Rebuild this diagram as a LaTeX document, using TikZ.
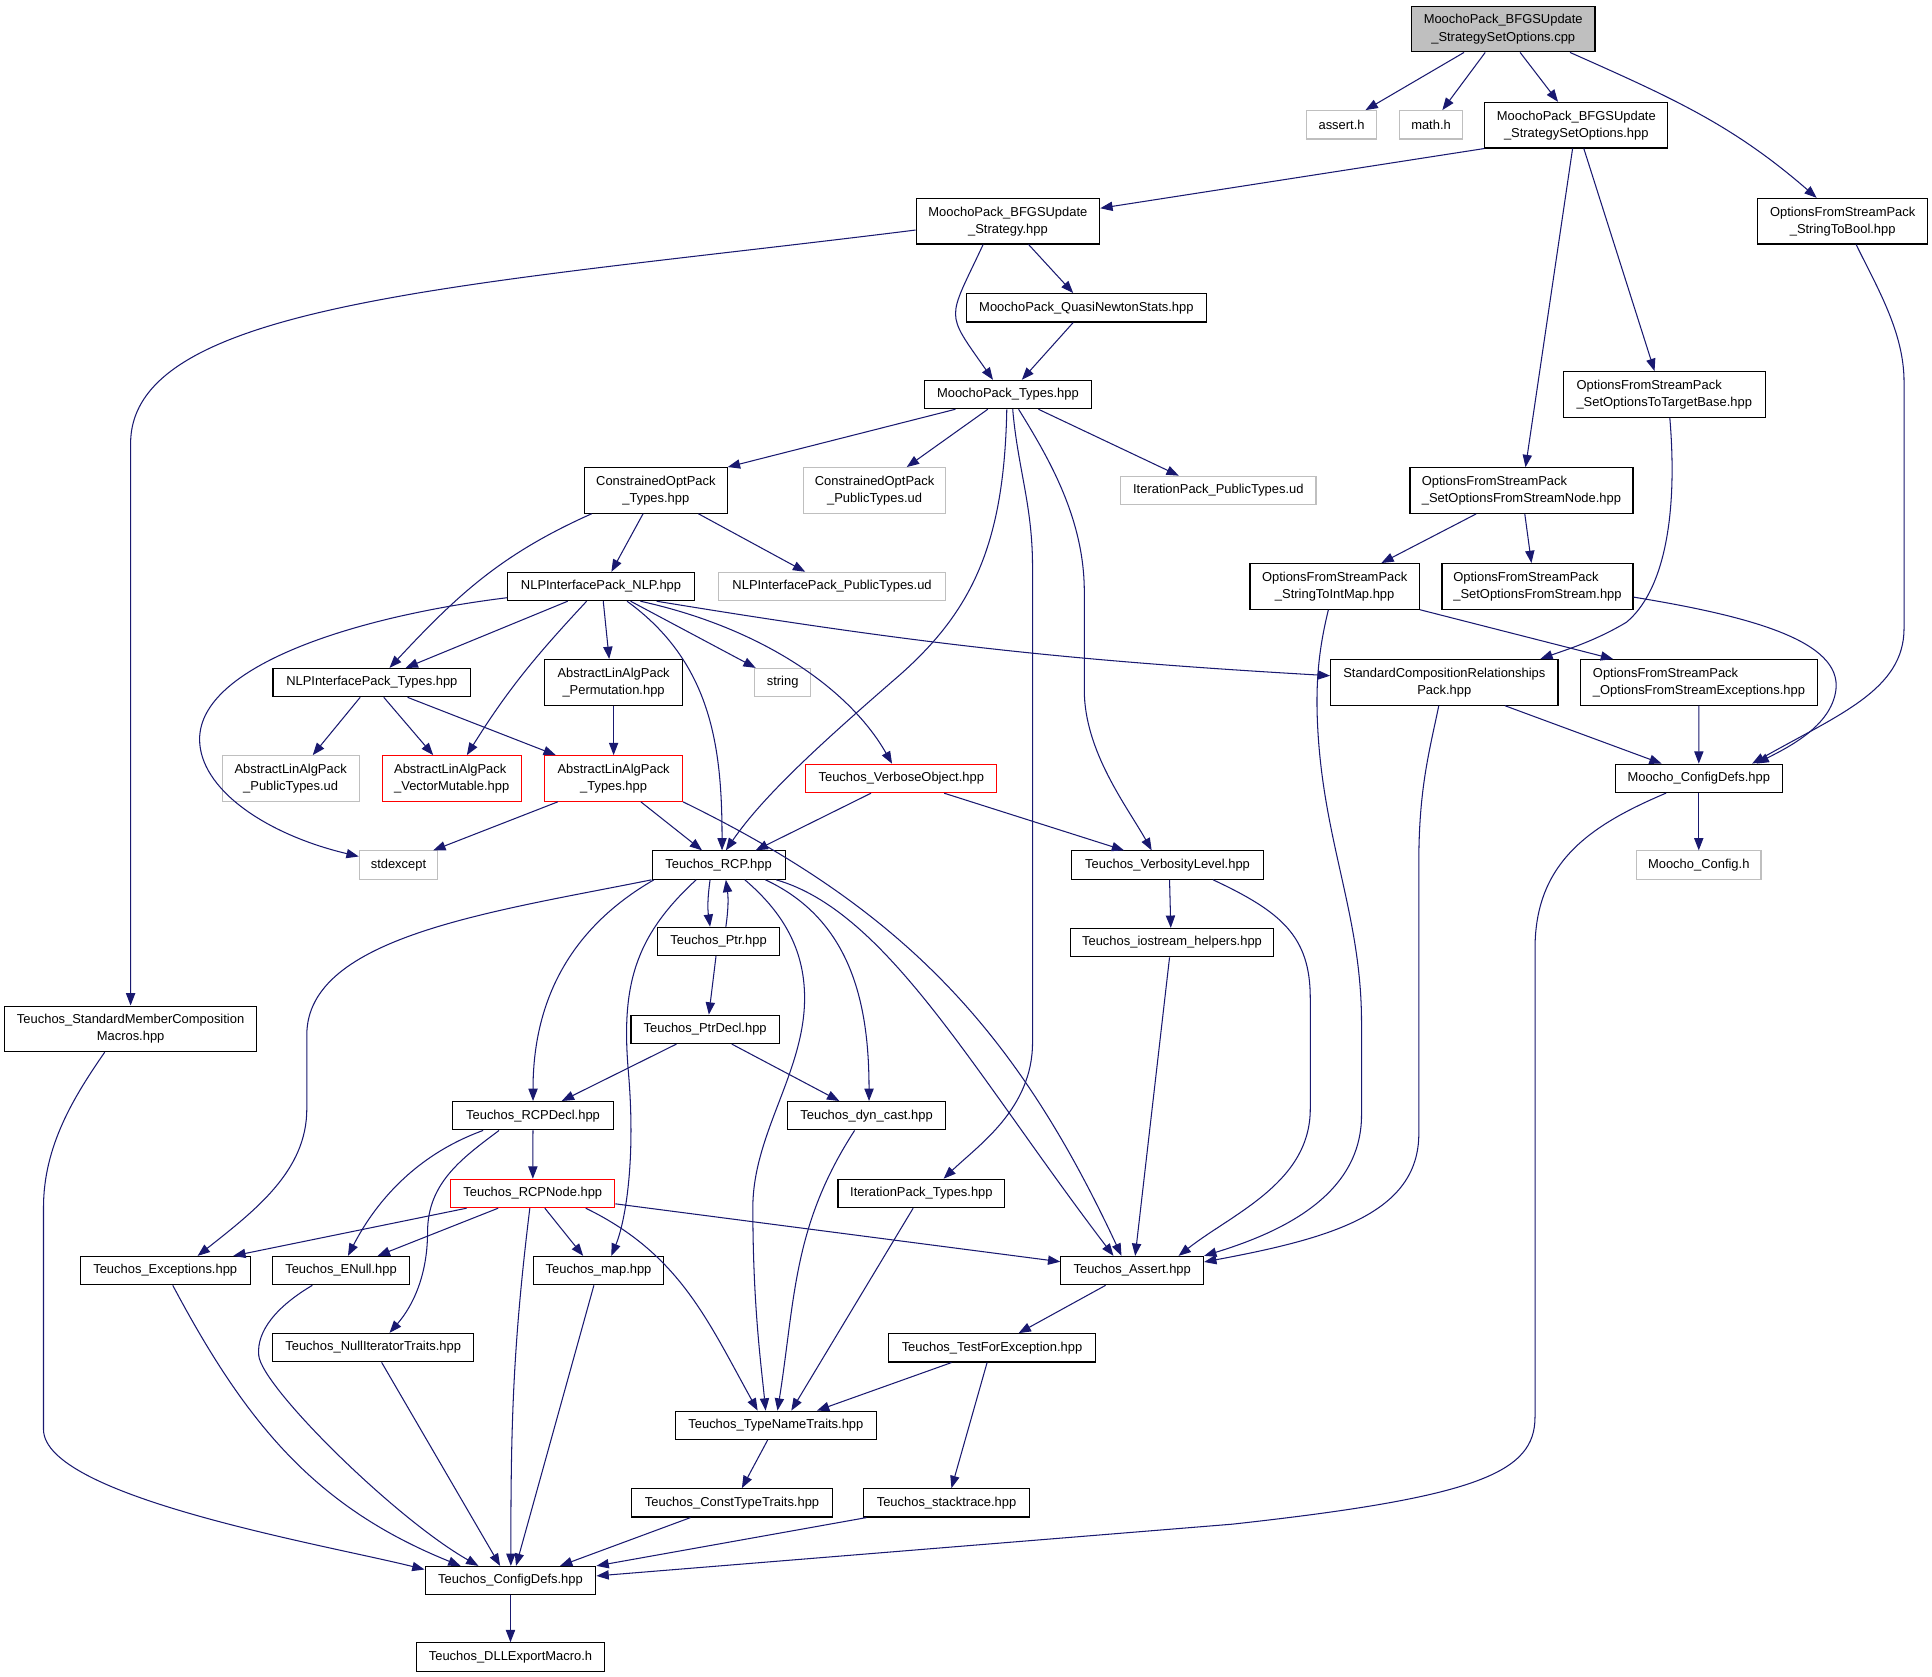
\documentclass[tikz,border=0pt]{standalone}
\usepackage{fontspec}
\setmainfont{Liberation Sans}
\usepackage{tikz}
\usetikzlibrary{positioning}
\usetikzlibrary{arrows.meta}
\definecolor{edgeblue}{HTML}{191970}
\definecolor{boxgrey}{HTML}{BFBFBF}
\tikzset{link/.style = {->,> = {Triangle[length=10pt,width=7.5pt]}, color=edgeblue, line width=.85pt}}
% first line left, second line centred (as doxygen does)
\newcommand{\twoline}[2]{\begin{tabular}{@{}l@{}}#1\\\multicolumn{1}{@{}c@{}}{#2}\end{tabular}}

\begin{document}
\begin{tikzpicture}[x=1pt, y=1pt, node distance=62pt,
    file/.style={rectangle, draw=black, line width=.9pt, fill=white, inner sep=3pt, minimum height=23pt, font=\fontsize{10.5}{14}\selectfont},
    tall/.style={minimum height=37pt},
    sys/.style={file, draw=boxgrey},
    bad/.style={file, draw=red},
    root/.style={file, fill=boxgrey}]
    \fill[white] (0,0) rectangle (1568,-1361);
    \useasboundingbox (0,0) rectangle (1568,-1361);
    % top rows
    \node[root, tall, minimum width=149pt] (cpp) at (1220,-23.6) {\twoline{MoochoPack\_BFGSUpdate}{\_StrategySetOptions.cpp}};
    \node[sys, minimum width=56.5pt] (asserth) at (1088.8,-101.3) {assert.h};
    \node[sys, minimum width=51pt] (mathh) at (1161.4,-101.3) {math.h};
    \node[file, tall, minimum width=148.5pt] (setopthpp) at (1279.3,-101.6) {\twoline{MoochoPack\_BFGSUpdate}{\_StrategySetOptions.hpp}};
    \node[file, tall, minimum width=149pt] (strategy) at (818,-179.5) {\twoline{MoochoPack\_BFGSUpdate}{\_Strategy.hpp}};
    \node[file, tall, minimum width=138pt] (strtobool) at (1495.5,-179.5) {\twoline{OptionsFromStreamPack}{\_StringToBool.hpp}};
    \node[file, minimum width=194.6pt] (qns) at (881.7,-249.8) {MoochoPack\_QuasiNewtonStats.hpp};
    \node[file, minimum width=135pt] (types) at (818,-320.2) {MoochoPack\_Types.hpp};
    \node[file, tall, minimum width=163.7pt] (settarget) at (1350.7,-320.1) {\twoline{OptionsFromStreamPack}{\_SetOptionsToTargetBase.hpp}};
    \node[file, tall, minimum width=115.8pt] (cop) at (532.3,-398) {\twoline{ConstrainedOptPack}{\_Types.hpp}};
    \node[sys, tall, minimum width=115.8pt] (coppub) at (709.8,-398) {\twoline{ConstrainedOptPack}{\_PublicTypes.ud}};
    \node[sys, minimum width=158.5pt] (iterpub) at (988.8,-398) {IterationPack\_PublicTypes.ud};
    \node[file, tall, minimum width=181pt] (setnode) at (1234.8,-398.1) {\twoline{OptionsFromStreamPack}{\_SetOptionsFromStreamNode.hpp}};
    \node[file, minimum width=151.6pt] (nlp) at (487.8,-476) {NLPInterfacePack\_NLP.hpp};
    \node[sys, minimum width=184pt] (nlppub) at (675.3,-476) {NLPInterfacePack\_PublicTypes.ud};
    \node[file, tall, minimum width=137.5pt] (strtoint) at (1083.2,-475.9) {\twoline{OptionsFromStreamPack}{\_StringToIntMap.hpp}};
    \node[file, tall, minimum width=155pt] (setstream) at (1247.8,-475.9) {\twoline{OptionsFromStreamPack}{\_SetOptionsFromStream.hpp}};
    \node[file, minimum width=160.5pt] (nlptypes) at (301.8,-554) {NLPInterfacePack\_Types.hpp};
    \node[file, tall, minimum width=111.7pt] (perm) at (498,-553.8) {\twoline{AbstractLinAlgPack}{\_Permutation.hpp}};
    \node[sys, minimum width=45pt] (string) at (635.2,-554) {string};
    \node[file, tall, minimum width=184.5pt] (stdcomp) at (1172.2,-553.8) {\twoline{StandardCompositionRelationships}{Pack.hpp}};
    \node[file, tall, minimum width=191.7pt] (exc) at (1378.9,-553.8) {\twoline{OptionsFromStreamPack}{\_OptionsFromStreamExceptions.hpp}};
    \node[sys, tall, minimum width=111.3pt] (alapub) at (235.9,-631.8) {\twoline{AbstractLinAlgPack}{\_PublicTypes.ud}};
    \node[bad, tall, minimum width=112.8pt] (vecmut) at (366.6,-631.8) {\twoline{AbstractLinAlgPack}{\_VectorMutable.hpp}};
    \node[bad, tall, minimum width=111.7pt] (alatypes) at (498,-631.8) {\twoline{AbstractLinAlgPack}{\_Types.hpp}};
    \node[bad, minimum width=155pt] (verbobj) at (731.5,-631.8) {Teuchos\_VerboseObject.hpp};
    \node[file, minimum width=135.4pt] (moochoconf) at (1378.7,-631.7) {Moocho\_ConfigDefs.hpp};
    % middle rows
    \node[sys, minimum width=63.6pt] (stdexcept) at (323.4,-702.1) {stdexcept};
    \node[file, minimum width=108pt] (rcp) at (583.2,-702.1) {Teuchos\_RCP.hpp};
    \node[file, minimum width=155.3pt] (verblev) at (947.6,-702.1) {Teuchos\_VerbosityLevel.hpp};
    \node[sys, minimum width=101pt, node distance=70.4pt] (mconfigh) [below of=moochoconf] {Moocho\_Config.h};
    \node[file, minimum width=98.5pt] (ptr) [below of=rcp] {Teuchos\_Ptr.hpp};
    \node[file, minimum width=164.3pt] (iohelp) at (951.2,-765) {Teuchos\_iostream\_helpers.hpp};
    \node[file, tall, minimum width=204pt] (members) at (106,-835) {\twoline{Teuchos\_StandardMemberComposition}{Macros.hpp}};
    \node[file, minimum width=120.3pt] (ptrdecl) at (572.3,-835.4) {Teuchos\_PtrDecl.hpp};
    \node[file, minimum width=130pt] (rcpdecl) at (432.6,-905.5) {Teuchos\_RCPDecl.hpp};
    \node[file, minimum width=127.7pt] (dyncast) at (703.3,-905.5) {Teuchos\_dyn\_cast.hpp};
    \node[bad, minimum width=133pt] (rcpnode) at (432.4,-968.6) {Teuchos\_RCPNode.hpp};
    \node[file, minimum width=135.4pt] (iter) at (747.8,-968.6) {IterationPack\_Types.hpp};
    % bottom rows
    \node[file, minimum width=138pt] (texc) at (134.1,-1031.2) {Teuchos\_Exceptions.hpp};
    \node[file, minimum width=110.7pt] (enull) at (276.8,-1031.2) {Teuchos\_ENull.hpp};
    \node[file, minimum width=105pt] (map) at (485.8,-1031.2) {Teuchos\_map.hpp};
    \node[file, minimum width=115.8pt] (assert) at (918.9,-1031.2) {Teuchos\_Assert.hpp};
    \node[file, minimum width=163pt] (nullit) at (302.9,-1093.7) {Teuchos\_NullIteratorTraits.hpp};
    \node[file, minimum width=167.8pt] (testexc) at (805.1,-1093.9) {Teuchos\_TestForException.hpp};
    \node[file, minimum width=163.6pt] (tnt) at (629.7,-1156.8) {Teuchos\_TypeNameTraits.hpp};
    \node[file, minimum width=163.6pt] (ctt) at (594.1,-1219.7) {Teuchos\_ConstTypeTraits.hpp};
    \node[file, minimum width=134.4pt] (stack) at (768.2,-1219.7) {Teuchos\_stacktrace.hpp};
    \node[file, minimum width=138.6pt] (conf) at (414.3,-1282.8) {Teuchos\_ConfigDefs.hpp};
    \node[file, minimum width=153pt] (dll) [below of=conf] {Teuchos\_DLLExportMacro.h};

    % from the .cpp
    \path[link] ([xshift=-31.8pt]cpp.south) edge ([xshift=19.4pt]asserth.north);
    \path[link] ([xshift=-14.6pt]cpp.south) edge ([xshift=9.2pt]mathh.north);
    \path[link] ([xshift=13.7pt]cpp.south) edge ([xshift=-14.8pt]setopthpp.north);
    \path[link] ([xshift=54.2pt]cpp.south) edge[out=-24,in=139] ([xshift=-21.1pt]strtobool.north);
    \path[link] (setopthpp.south west) edge ([yshift=10.5pt]strategy.east);
    \path[link] ([xshift=-3pt]setopthpp.south) edge ([xshift=3.3pt]setnode.north);
    \path[link] ([xshift=6.1pt]setopthpp.south) edge ([xshift=-7.9pt]settarget.north);
    % strategy
    \draw[link] ([yshift=-7.2pt]strategy.west) .. controls (380,-232) and (106,-245) .. (106,-360) -- (members.north);
    \path[link] ([xshift=16.8pt]strategy.south) edge ([xshift=-10.7pt]qns.north);
    \path[link] ([xshift=-20.1pt]strategy.south) edge[out=-115,in=125,looseness=1.6] ([xshift=-12.1pt]types.north);
    \path[link] ([xshift=-10.7pt]qns.south) edge ([xshift=11.3pt]types.north);
    \draw[link] ([xshift=10.9pt]strtobool.south) .. controls (1524,-234.4) and (1545.3,-270) .. (1545.3,-310) -- (1545.3,-510) .. controls (1545.3,-560) and (1492,-580) .. ([xshift=43.3pt]moochoconf.north);
    % MoochoPack_Types
    \path[link] ([xshift=-42.6pt]types.south) edge (cop.north east);
    \path[link] ([xshift=-16.3pt]types.south) edge ([xshift=26.1pt]coppub.north);
    \path[link] ([xshift=24.8pt]types.south) edge ([xshift=-32.1pt]iterpub.north);
    \draw[link] ([xshift=-0.9pt]types.south) .. controls (815,-440) and (790,-495) .. (730,-548) .. controls (670,-600) and (620,-645) .. ([xshift=5.9pt]rcp.north);
    \draw[link] ([xshift=3.9pt]types.south) .. controls (826,-380) and (838,-410) .. (838,-460) -- (838,-846) .. controls (838,-900) and (793.8,-929.6) .. ([xshift=18pt]iter.north);
    \draw[link] ([xshift=8.7pt]types.south) .. controls (850,-370) and (880,-420) .. (880,-480) -- (880,-560) .. controls (880,-610) and (915,-655) .. ([xshift=-12.9pt]verblev.north);
    % options from stream
    \draw[link] ([xshift=4.5pt]settarget.south) .. controls (1362,-420) and (1350,-480) .. (1320,-505) .. controls (1295,-520) and (1272,-527) .. ([xshift=77.9pt]stdcomp.north);
    \path[link] ([xshift=-36.7pt]setnode.south) edge ([xshift=37.9pt]strtoint.north);
    \path[link] ([xshift=2.7pt]setnode.south) edge ([xshift=-4.9pt]setstream.north);
    \draw[link] ([yshift=-8.7pt]setstream.east) .. controls (1420,-500) and (1495,-520) .. (1490,-560) .. controls (1486,-590) and (1450,-607) .. ([xshift=46.9pt]moochoconf.north);
    \draw[link] ([xshift=-5.1pt]strtoint.south) .. controls (1072,-520) and (1068,-545) .. (1069,-580) .. controls (1072,-680) and (1105,-740) .. (1105,-830) -- (1105,-905) .. controls (1105,-970) and (1040,-1000) .. (assert.north east);
    \path[link] (strtoint.south east) edge ([xshift=-69.7pt]exc.north);
    \path[link] ([xshift=49.2pt]stdcomp.south) edge ([xshift=-30.1pt]moochoconf.north);
    \draw[link] ([xshift=-4.5pt]stdcomp.south) .. controls (1160,-610) and (1151.5,-640) .. (1151.5,-700) -- (1151.5,-920) .. controls (1151.5,-985) and (1080,-1005) .. ([yshift=7pt]assert.east);
    \path[link] (exc) edge (moochoconf);
    \path[link] (moochoconf) edge (mconfigh);
    \draw[link] ([xshift=-26.5pt]moochoconf.south) .. controls (1290,-670) and (1245.8,-700) .. (1245.8,-770) -- (1245.8,-1150) .. controls (1245.8,-1195) and (1200,-1215) .. (1000,-1237) -- ([yshift=3.8pt]conf.east);
    % ConstrainedOptPack and NLP
    \path[link] ([xshift=-52.1pt]cop.south) edge[out=-156,in=47] ([xshift=14.3pt]nlptypes.north);
    \path[link] ([xshift=-10.4pt]cop.south) edge ([xshift=8.4pt]nlp.north);
    \path[link] ([xshift=34.5pt]cop.south) edge ([xshift=-21.8pt]nlppub.north);
    \draw[link] ([yshift=-9.1pt]nlp.west) .. controls (290,-500) and (162,-540) .. (162,-600) .. controls (162,-640) and (215,-677) .. ([yshift=7pt]stdexcept.west);
    \path[link] ([xshift=-27.1pt]nlp.south) edge ([xshift=27.4pt]nlptypes.north);
    \path[link] ([xshift=-11.7pt]nlp.south) edge[out=-133,in=58] ([xshift=12.3pt]vecmut.north);
    \path[link] ([xshift=1.8pt]nlp.south) edge ([xshift=-3.6pt]perm.north);
    \path[link] ([xshift=21.1pt]nlp.south) edge[out=-36,in=90] ([xshift=2.8pt]rcp.north);
    \path[link] ([xshift=24pt]nlp.south) edge ([xshift=-21.9pt]string.north);
    \draw[link] ([xshift=32pt]nlp.south) .. controls (620,-510) and (690,-560) .. ([xshift=-7.5pt]verbobj.north);
    \path[link] ([xshift=45.2pt]nlp.south) edge[bend right=3] ([yshift=5.4pt]stdcomp.west);
    \path[link] ([xshift=-9.5pt]nlptypes.south) edge ([xshift=17.9pt]alapub.north);
    \path[link] ([xshift=9.7pt]nlptypes.south) edge ([xshift=-15pt]vecmut.north);
    \path[link] ([xshift=29pt]nlptypes.south) edge ([xshift=-46.9pt]alatypes.north);
    \path[link] (perm) edge (alatypes);
    % AbstractLinAlgPack_Types
    \path[link] ([xshift=-45.3pt]alatypes.south) edge ([xshift=28.2pt]stdexcept.north);
    \path[link] ([xshift=22.1pt]alatypes.south) edge ([xshift=-13.4pt]rcp.north);
    \path[link] (alatypes.south east) edge[out=-26,in=115] ([xshift=-8.7pt]assert.north);
    % verbose object and verbosity level
    \path[link] ([xshift=-24.6pt]verbobj.south) edge ([xshift=30pt]rcp.north);
    \path[link] ([xshift=34.8pt]verbobj.south) edge ([xshift=-35.3pt]verblev.north);
    \path[link] ([xshift=1.6pt]verblev.south) edge ([xshift=-1pt]iohelp.north);
    \draw[link] ([xshift=36.9pt]verblev.south) .. controls (1040,-740) and (1063.4,-760) .. (1063.4,-810) -- (1063.4,-900) .. controls (1063.4,-960) and (1000,-985) .. ([xshift=37.6pt]assert.north);
    \path[link] ([xshift=-2pt]iohelp.south) edge ([xshift=2.4pt]assert.north);
    % Teuchos_RCP
    \path[link] ([xshift=-6.9pt]rcp.south) edge[bend right=8] ([xshift=-6.9pt]ptr.north);
    \path[link] ([xshift=5.9pt]ptr.north) edge[bend right=8] ([xshift=5.9pt]rcp.south);
    \draw[link] (rcp.south west) .. controls (400,-740) and (249,-760) .. (249,-840) -- (249,-900) .. controls (249,-950) and (207.7,-981.9) .. ([xshift=26.3pt]texc.north);
    \path[link] ([xshift=-52.5pt]rcp.south) edge[out=-150,in=90] (rcpdecl.north);
    \draw[link] ([xshift=-18.2pt]rcp.south) .. controls (515,-760) and (504,-800) .. (510,-870) .. controls (516,-940) and (508,-990) .. ([xshift=10.4pt]map.north);
    \draw[link] ([xshift=21.3pt]rcp.south) .. controls (635,-740) and (653,-770) .. (653,-810) .. controls (653,-870) and (611,-920) .. (611,-980) .. controls (611,-1060) and (618,-1110) .. ([xshift=-8.3pt]tnt.north);
    \path[link] ([xshift=38pt]rcp.south) edge[out=-25,in=90] ([xshift=2pt]dyncast.north);
    \draw[link] ([xshift=46.8pt]rcp.south) .. controls (720,-740) and (790,-870) .. ([xshift=-15.2pt]assert.north);
    \path[link] ([xshift=-2.1pt]ptr.south) edge ([xshift=3pt]ptrdecl.north);
    \path[link] ([xshift=-23.3pt]ptrdecl.south) edge ([xshift=23.3pt]rcpdecl.north);
    \path[link] ([xshift=21.6pt]ptrdecl.south) edge ([xshift=-22.1pt]dyncast.north);
    \draw[link] ([xshift=-21pt]members.south) .. controls (60,-890) and (35.3,-930) .. (35.3,-980) -- (35.3,-1160) .. controls (35.3,-1215) and (265.9,-1254) .. ([yshift=9pt]conf.west);
    % RCPDecl and RCPNode
    \path[link] (rcpdecl) edge (rcpnode);
    \draw[link] ([xshift=-40.5pt]rcpdecl.south) .. controls (330,-940) and (300,-985) .. ([xshift=5.6pt]enull.north);
    \draw[link] ([xshift=-27.6pt]rcpdecl.south) .. controls (375,-940) and (347,-960) .. (347,-1000) .. controls (347,-1035) and (335,-1060) .. ([xshift=13.2pt]nullit.north);
    \path[link] ([xshift=-53.7pt]rcpnode.south) edge ([xshift=55.2pt]texc.north);
    \path[link] ([xshift=-28.1pt]rcpnode.south) edge ([xshift=29.7pt]enull.north);
    \path[link] ([xshift=9.8pt]rcpnode.south) edge ([xshift=-12.5pt]map.north);
    \path[link] ([xshift=-2.4pt]rcpnode.south) edge[out=-97,in=90] ([xshift=0.3pt]conf.north);
    \path[link] ([xshift=43pt]rcpnode.south) edge[out=-26,in=119] ([xshift=-14.8pt]tnt.north);
    \path[link] ([yshift=-8.4pt]rcpnode.east) edge ([yshift=7.2pt]assert.west);
    \path[link] ([xshift=-6.7pt]iter.south) edge ([xshift=12.5pt]tnt.north);
    \path[link] ([xshift=-9.7pt]dyncast.south) edge[out=-123,in=81] ([xshift=1.3pt]tnt.north);
    % down to Teuchos_ConfigDefs
    \path[link] ([xshift=6.1pt]texc.south) edge[out=-62,in=158] ([xshift=-40.5pt]conf.north);
    \draw[link] ([xshift=-23.3pt]enull.south) .. controls (225,-1060) and (208,-1080) .. (210,-1100) .. controls (212,-1125) and (320,-1232) .. ([xshift=-26pt]conf.north);
    \path[link] ([xshift=6.8pt]nullit.south) edge ([xshift=-8.4pt]conf.north);
    \path[link] ([xshift=-3.8pt]map.south) edge ([xshift=4.5pt]conf.north);
    \path[link] ([xshift=-21.6pt]assert.south) edge ([xshift=21.6pt]testexc.north);
    \path[link] ([xshift=-32.9pt]testexc.south) edge ([xshift=33.3pt]tnt.north);
    \path[link] ([xshift=-4pt]testexc.south) edge ([xshift=4pt]stack.north);
    \path[link] ([xshift=-6.7pt]tnt.south) edge ([xshift=8pt]ctt.north);
    \path[link] ([xshift=-33.7pt]ctt.south) edge ([xshift=40.2pt]conf.north);
    \path[link] ([xshift=-65pt]stack.south) edge (conf.north east);
    \path[link] (conf) edge (dll);
\end{tikzpicture}
\end{document}
